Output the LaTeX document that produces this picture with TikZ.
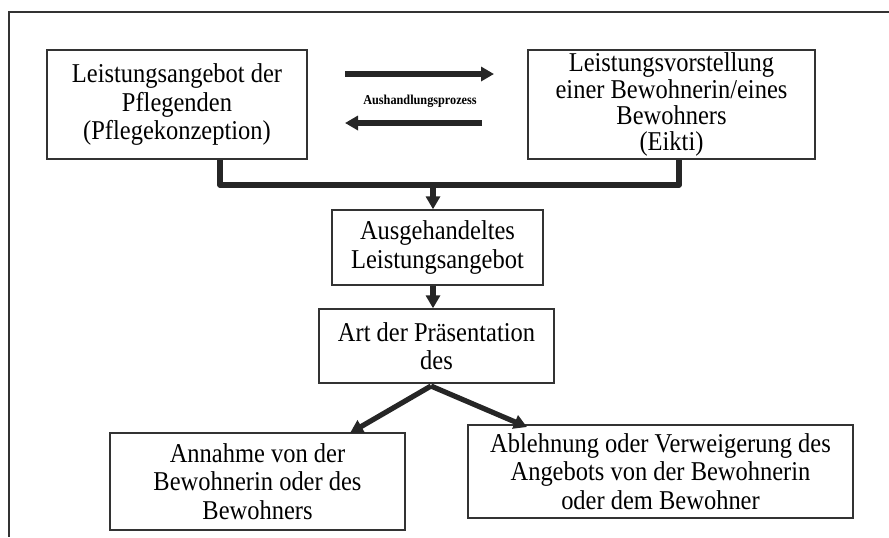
\documentclass[tikz,border=0pt]{standalone}
\usepackage{fontspec}
\setmainfont{Liberation Serif}[FakeStretch=0.9]
\usetikzlibrary{arrows.meta}
\tikzset{
  box/.style={draw=black!80, line width=0.7pt, align=center, inner sep=0pt,
    font=\fontsize{13.6}{14.3}\selectfont},
  thickline/.style={draw=black!85, line width=2.6pt},
  arr/.style={thickline, -{Triangle[length=6.5pt,width=7pt]}},
  frame/.style={draw=black!80, line width=0.7pt}
}
\begin{document}
\begin{tikzpicture}[x=0.5pt,y=-0.5pt]
\useasboundingbox (0,0) rectangle (889,537);
\draw[frame] (889,12) -- (9,12) -- (9,537);

\node[box, minimum width=130pt, minimum height=54.5pt] (b1) at (177,104.5)
  {Leistungsangebot der\\Pflegenden\\(Pflegekonzeption)};
\node[box, minimum width=143.5pt, minimum height=54.5pt, font=\fontsize{13.6}{13.4}\selectfont] (b2) at (671.5,104.5)
  {Leistungsvorstellung\\einer Bewohnerin/eines\\Bewohners\\[-0.5pt](Eikti)};
\node[box, minimum width=105.5pt, minimum height=37.5pt] (b3) at (437.5,247.5)
  {Ausgehandeltes\\Leistungsangebot};
\node[box, minimum width=117.5pt, minimum height=37pt] (b4) at (436.5,346)
  {Art der Präsentation\\des};
\node[box, minimum width=147.5pt, minimum height=48.5pt] (b5) at (257.5,481.5)
  {Annahme von der\\Bewohnerin oder des\\Bewohners};
\node[box, minimum width=192.5pt, minimum height=46.5pt] (b6) at (660.5,471.5)
  {Ablehnung oder Verweigerung des\\Angebots von der Bewohnerin\\oder dem Bewohner};

% negotiation arrows
\coordinate (r1) at (345,74);
\coordinate (r2) at (494,74);
\coordinate (l1) at (482,123);
\coordinate (l2) at (345,123);
\draw[arr] (r1) -- (r2);
\draw[arr] (l1) -- (l2);
\node[font=\bfseries\fontsize{6.8}{7.5}\selectfont, inner sep=0pt] (lab) at (420,101) {Aushandlungsprozess};

% merge connector
\coordinate (m) at (433,185);
\draw[thickline, line join=round] (b1.south -| 220,0) -- (220,185) -- (679,185) -- (b2.south -| 679,0);
\draw[arr] (m) -- (b3.north -| m);
\draw[arr] (b3.south -| m) -- (b4.north -| m);

% split arrows
\coordinate (s) at (431,386);
\coordinate (t5) at (350,433);
\coordinate (t6) at (527,427);
\draw[arr] (s) -- (t5);
\draw[arr] (s) -- (t6);
\end{tikzpicture}
\end{document}
